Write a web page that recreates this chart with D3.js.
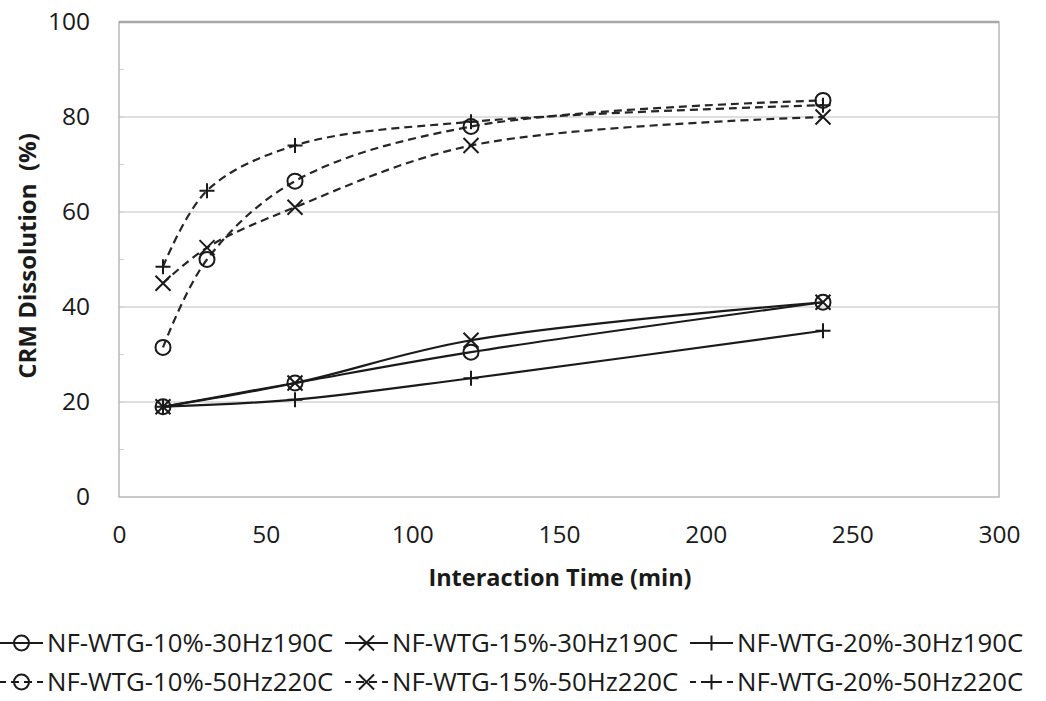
<!DOCTYPE html>
<html>
<head>
<meta charset="utf-8">
<script src="https://cdn.jsdelivr.net/npm/d3@7"></script>
<style>
  body { margin: 0; background: #fff; }
  text { font-family: "Open Sans", sans-serif; fill: #1a1a1a; }
</style>
</head>
<body>
<div id="chart"></div>
<script>

// data
var times30 = [15, 60, 120, 240];
var times50 = [15, 30, 60, 120, 240];

var wtg10_30 = [19, 24, 30.5, 41];
var wtg15_30 = [19, 24, 33, 41];
var wtg20_30 = [19, 20.5, 25, 35];

var wtg10_50 = [31.5, 50, 66.5, 78, 83.5];
var wtg15_50 = [45, 52.5, 61, 74, 80];
var wtg20_50 = [48.5, 64.5, 74, 79, 82.5];

var seriesNames = ["NF-WTG-10%-30Hz190C", "NF-WTG-15%-30Hz190C", "NF-WTG-20%-30Hz190C",
                   "NF-WTG-10%-50Hz220C", "NF-WTG-15%-50Hz220C", "NF-WTG-20%-50Hz220C"];
var seriesMarkers = ["circle", "cross", "plus", "circle", "cross", "plus"];

var xTicks = [0, 50, 100, 150, 200, 250, 300];
var yTicks = [0, 20, 40, 60, 80, 100];

function makeChart() {

  var width = 1046,
      height = 701,
      margin = {top: 22, right: 47, bottom: 204, left: 119};

  var svg = d3.select("#chart")
      .append("svg")
      .attr("width", width)
      .attr("height", height);

  var xScale = d3.scaleLinear()
      .domain([0, 300])
      .range([margin.left, width - margin.right]);

  var yScale = d3.scaleLinear()
      .domain([0, 100])
      .range([height - margin.bottom, margin.top]);

  // series table built from the arrays
  var series = [
    {name: seriesNames[0], marker: seriesMarkers[0], dashed: false, x: times30, y: wtg10_30},
    {name: seriesNames[1], marker: seriesMarkers[1], dashed: false, x: times30, y: wtg15_30},
    {name: seriesNames[2], marker: seriesMarkers[2], dashed: false, x: times30, y: wtg20_30},
    {name: seriesNames[3], marker: seriesMarkers[3], dashed: true, x: times50, y: wtg10_50},
    {name: seriesNames[4], marker: seriesMarkers[4], dashed: true, x: times50, y: wtg15_50},
    {name: seriesNames[5], marker: seriesMarkers[5], dashed: true, x: times50, y: wtg20_50}
  ];

  // gridlines
  svg.append("g")
     .selectAll("line")
     .data(yTicks.filter(function(d) { return d > 0 && d < 100; }))
     .enter().append("line")
     .attr("x1", xScale(0))
     .attr("x2", xScale(300))
     .attr("y1", function(d) { return yScale(d); })
     .attr("y2", function(d) { return yScale(d); })
     .style("stroke", "#d4d4d4")
     .style("stroke-width", 1.5);

  // small ticks on the left axis, every 10
  svg.append("g")
     .selectAll("line")
     .data(d3.range(10, 100, 10))
     .enter().append("line")
     .attr("x1", xScale(0))
     .attr("x2", xScale(0) + 5)
     .attr("y1", function(d) { return yScale(d); })
     .attr("y2", function(d) { return yScale(d); })
     .style("stroke", "#d0d0d0")
     .style("stroke-width", 1);

  // plot frame
  svg.append("rect")
     .attr("x", xScale(0))
     .attr("y", yScale(100))
     .attr("width", xScale(300) - xScale(0))
     .attr("height", yScale(0) - yScale(100))
     .style("fill", "none")
     .style("stroke", "#b8b8b8")
     .style("stroke-width", 1.5);

  svg.append("line")
     .attr("x1", xScale(0))
     .attr("x2", xScale(300))
     .attr("y1", yScale(100))
     .attr("y2", yScale(100))
     .style("stroke", "#a8a8a8")
     .style("stroke-width", 2.5);

  // axes, only the labels are shown
  var xAxis = d3.axisBottom(xScale)
      .tickValues(xTicks)
      .tickSize(0)
      .tickPadding(29);

  var yAxis = d3.axisLeft(yScale)
      .tickValues(yTicks)
      .tickSize(0)
      .tickPadding(29);

  var gX = svg.append("g")
      .attr("transform", "translate(0," + yScale(0) + ")")
      .call(xAxis);

  var gY = svg.append("g")
      .attr("transform", "translate(" + xScale(0) + ",0)")
      .call(yAxis);

  [gX, gY].forEach(function(g) {
    g.select(".domain").remove();
    g.selectAll("text")
     .style("font-family", "'Open Sans', sans-serif")
     .style("font-size", "24.5px")
     .style("fill", "#1a1a1a");
  });

  // axis titles
  svg.append("text")
     .attr("x", 560)
     .attr("y", 586)
     .attr("text-anchor", "middle")
     .style("font-weight", "bold")
     .style("font-size", "23.5px")
     .text("Interaction Time (min)");

  svg.append("text")
     .attr("transform", "translate(36,256) rotate(-90)")
     .attr("text-anchor", "middle")
     .style("font-weight", "bold")
     .style("font-size", "24px")
     .style("white-space", "pre")
     .attr("xml:space", "preserve")
     .text("CRM Dissolution  (%)");

  // smoothed lines like the spreadsheet ones
  var line = d3.line()
      .x(function(d) { return xScale(d[0]); })
      .y(function(d) { return yScale(d[1]); })
      .curve(d3.curveCatmullRom.alpha(0.5));

  series.forEach(function(s) {
    var pts = s.x.map(function(t, i) { return [t, s.y[i]]; });

    svg.append("path")
       .datum(pts)
       .attr("d", line)
       .style("fill", "none")
       .style("stroke", s.dashed ? "#262626" : "#1a1a1a")
       .style("stroke-width", 2.2)
       .style("stroke-dasharray", s.dashed ? "8,5" : null);

    pts.forEach(function(p) {
      drawMarker(svg, s.marker, xScale(p[0]), yScale(p[1]));
    });
  });

  // legend, two rows of three
  var legendX = [0, 345, 690];
  var legendY = [643, 682];

  series.forEach(function(s, i) {
    var lx = legendX[i % 3],
        ly = legendY[Math.floor(i / 3)];

    svg.append("line")
       .attr("x1", lx)
       .attr("x2", lx + 43)
       .attr("y1", ly)
       .attr("y2", ly)
       .style("stroke", "#1a1a1a")
       .style("stroke-width", 2)
       .style("stroke-dasharray", s.dashed ? "8,5" : null)
       .style("stroke-dashoffset", s.dashed ? 2 : null);

    drawMarker(svg, s.marker, lx + 21.5, ly);

    svg.append("text")
       .attr("x", lx + 47)
       .attr("y", ly + 9)
       .style("font-size", "25.8px")
       .text(s.name);
  });
}

function drawMarker(svg, type, cx, cy) {
  if (type == "circle") {
    svg.append("circle")
       .attr("cx", cx)
       .attr("cy", cy)
       .attr("r", 7.5)
       .style("fill", "none")
       .style("stroke", "#1a1a1a")
       .style("stroke-width", 2);
  }
  else if (type == "cross") {
    var r = 7.5;
    svg.append("path")
       .attr("d", "M" + (cx - r) + "," + (cy - r) + "L" + (cx + r) + "," + (cy + r) +
                  "M" + (cx - r) + "," + (cy + r) + "L" + (cx + r) + "," + (cy - r))
       .style("stroke", "#1a1a1a")
       .style("stroke-width", 2);
  }
  else {
    var r = 7.5;
    svg.append("path")
       .attr("d", "M" + (cx - r) + "," + cy + "L" + (cx + r) + "," + cy +
                  "M" + cx + "," + (cy - r) + "L" + cx + "," + (cy + r))
       .style("stroke", "#1a1a1a")
       .style("stroke-width", 2);
  }
}

makeChart();

</script>
</body>
</html>
